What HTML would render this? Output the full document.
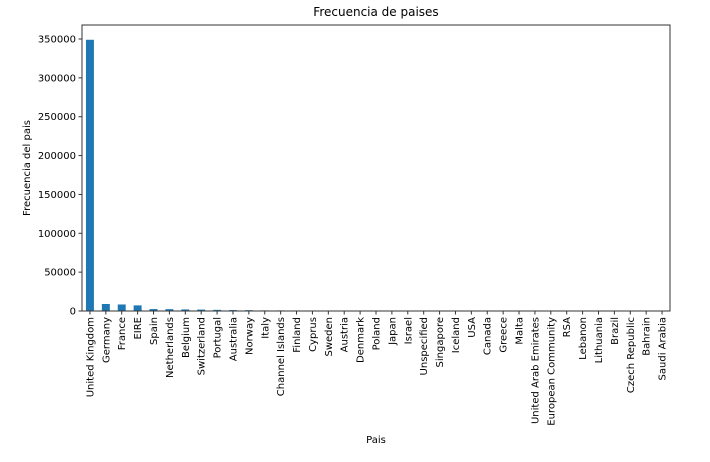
<!DOCTYPE html>
<html><head><meta charset="utf-8"><style>
body{margin:0;background:#fff;}
svg{font-family:"DejaVu Sans","Liberation Sans",sans-serif;}
</style></head><body>
<svg id="chart" width="710" height="457">
<text x="376" y="16" font-size="12" text-anchor="middle" fill="#000">Frecuencia de paises</text>
<text transform="translate(30,168) rotate(-90)" font-size="10" text-anchor="middle" fill="#000">Frecuencia del pais</text>
<text x="376" y="443" font-size="10" text-anchor="middle" fill="#000">Pais</text>
<g id="bars"></g><g id="axes"></g>
<rect x="82" y="25" width="588" height="286" fill="none" stroke="#333" stroke-width="1"/>
</svg>
<script>
const categories=["United Kingdom","Germany","France","EIRE","Spain","Netherlands","Belgium","Switzerland","Portugal","Australia","Norway","Italy","Channel Islands","Finland","Cyprus","Sweden","Austria","Denmark","Poland","Japan","Israel","Unspecified","Singapore","Iceland","USA","Canada","Greece","Malta","United Arab Emirates","European Community","RSA","Lebanon","Lithuania","Brazil","Czech Republic","Bahrain","Saudi Arabia"];
const counts=[349000,9027,8393,7226,2480,2363,2031,1842,1462,1185,1072,758,748,685,603,450,398,380,330,321,245,241,222,182,179,151,145,112,68,60,58,45,35,32,25,17,9];
const yTicks=[0,50000,100000,150000,200000,250000,300000,350000];
const L=82,R=670,T=25,B=311;
const NS="http://www.w3.org/2000/svg";
const yScale=v=>B-v*(311-39)/350000;
const step=(R-L)/categories.length;
const xScale=i=>L+step*(i+0.5);
const bars=document.getElementById('bars'),axes=document.getElementById('axes');
function mk(t,a){const e=document.createElementNS(NS,t);for(const k in a)e.setAttribute(k,a[k]);return e;}
counts.forEach((v,i)=>{
 const y=yScale(v);
 const r=mk('rect',{x:xScale(i)-step/4,y:y,width:step/2,height:B-y,fill:'#1f77b4'});
 
 
 bars.appendChild(r);
 const tk=mk('line',{x1:xScale(i),x2:xScale(i),y1:B,y2:B+3.5,stroke:'#333'});
 
 
 axes.appendChild(tk);
 const t=mk('text',{transform:`translate(${xScale(i)+3.5},${B+6}) rotate(-90)`,'font-size':'10','text-anchor':'end',fill:'#000'});
 t.textContent=categories[i];
 
 
 axes.appendChild(t);
});
yTicks.forEach(v=>{
 const y=yScale(v);
 const tk=mk('line',{x1:L-3.5,x2:L,y1:y,y2:y,stroke:'#333'});
 
 
 axes.appendChild(tk);
 const t=mk('text',{x:L-6,y:y+3.5,'font-size':'10','text-anchor':'end',fill:'#000'});
 t.textContent=v;
 
 
 axes.appendChild(t);
});
</script>
</body></html>
